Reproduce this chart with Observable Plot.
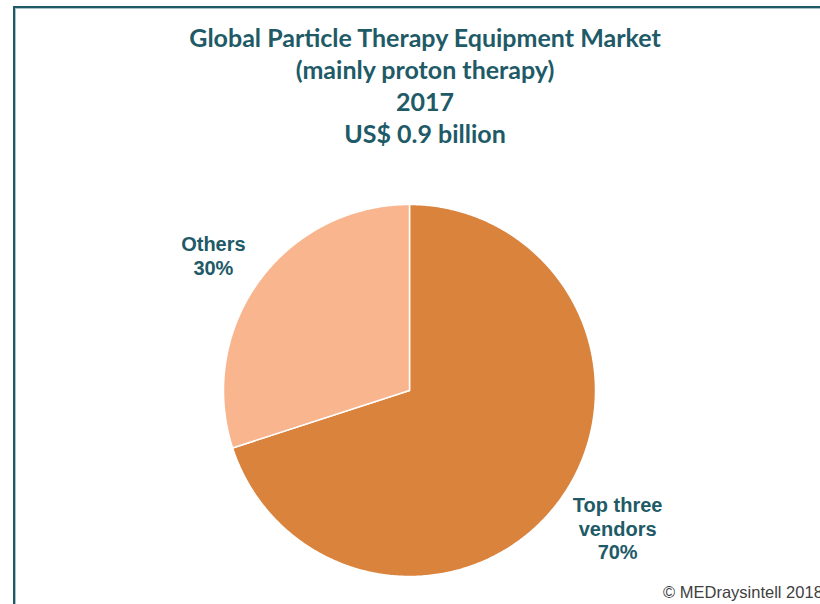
<!DOCTYPE html>
<html><head><meta charset="utf-8">
<script src="https://cdn.jsdelivr.net/npm/d3@7"></script>
<script src="https://cdn.jsdelivr.net/npm/@observablehq/plot@0.6"></script>
<style>
body{margin:0;background:#fff;}
#wrap{position:relative;width:820px;height:604px;overflow:hidden;background:#fff;}
#frame{position:absolute;left:13px;top:6px;width:900px;height:700px;border-left:2px solid #1f5866;border-top:2px solid #1f5866;box-shadow:inset 1px 1px 0 #a9c3c9;}
#title{position:absolute;left:0;width:850px;top:21px;text-align:center;font-family:Lato,"Open Sans",sans-serif;font-weight:bold;font-size:25px;line-height:32px;color:#215a67;}
#copy{position:absolute;left:663px;top:583px;font-family:"Liberation Sans",Arial,sans-serif;font-size:16.5px;color:#404040;white-space:nowrap;}
#chart{position:absolute;left:0;top:0;}
</style></head>
<body><div id="wrap"><div id="frame"></div>
<div id="title">Global Particle Therapy Equipment Market<br>(mainly proton therapy)<br>2017<br>US$ 0.9 billion</div>
<div id="chart"></div>
<div id="copy">© MEDraysintell 2018</div></div>
<script>
const categories = ["Top three vendors", "Others"];
const shares = [70, 30];
const labels = ["Top three\nvendors\n70%", "Others\n30%"];
const colors = ["#DA833D", "#F8B58E"];

const total = d3.sum(shares);
let acc = 0;
const slices = categories.map((c, i) => {
  const a0 = acc / total * 2 * Math.PI;
  acc += shares[i];
  const a1 = acc / total * 2 * Math.PI;
  return {category: c, a0, a1, mid: (a0 + a1) / 2};
});
const poly = [];
slices.forEach(s => {
  poly.push({category: s.category, x: 0, y: 0});
  const n = Math.max(2, Math.ceil((s.a1 - s.a0) / 0.01));
  for (let k = 0; k <= n; k++) {
    const a = s.a0 + (s.a1 - s.a0) * k / n;
    poly.push({category: s.category, x: Math.sin(a), y: Math.cos(a)});
  }
});
const labelRadius = [1.35, 1.27];
const labelShift = [[5, -10], [-5, 4]];
const labelData = slices.map((s, i) => ({
  category: s.category, text: labels[i],
  x: labelRadius[i] * Math.sin(s.mid), y: labelRadius[i] * Math.cos(s.mid),
  dx: labelShift[i][0], dy: labelShift[i][1]
}));

const chart = Plot.plot({
  width: 820, height: 604,
  marginLeft: 223, marginRight: 225, marginTop: 204, marginBottom: 28,
  x: {domain: [-1, 1], axis: null},
  y: {domain: [-1, 1], axis: null},
  color: {domain: categories, range: colors},
  style: {overflow: "visible", background: "transparent"},
  marks: [
    Plot.line(poly, {x: "x", y: "y", z: "category", fill: "category", stroke: "white", strokeWidth: 1.5, strokeLinejoin: "round", curve: "linear-closed"}),
    ...labelData.map(d => Plot.text([d], {x: "x", y: "y", text: "text", dx: d.dx, dy: d.dy, fill: "#215a67", fontSize: 20, fontWeight: "bold", fontFamily: "Liberation Sans, Arial, sans-serif", lineHeight: 1.18}))
  ]
});
document.getElementById("chart").appendChild(chart);
</script></body></html>
